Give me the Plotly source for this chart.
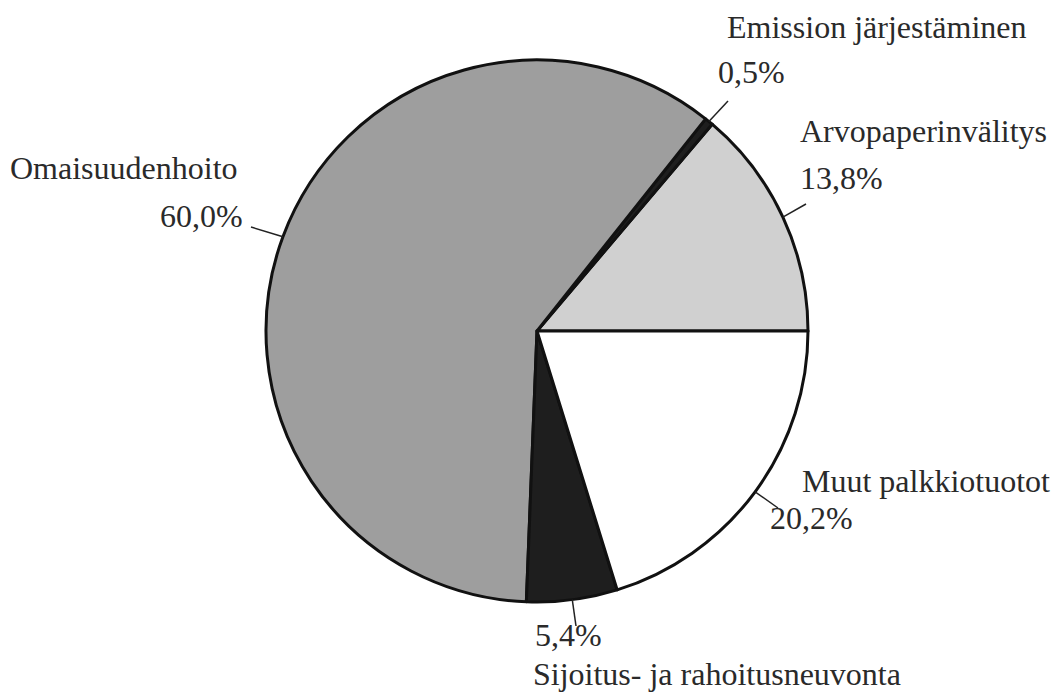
import numpy as np
import plotly.graph_objects as go

labels = ["Arvopaperinvälitys", "Emission järjestäminen", "Omaisuudenhoito",
          "Sijoitus- ja rahoitusneuvonta", "Muut palkkiotuotot"]
values = [13.8, 0.5, 60.0, 5.4, 20.2]
pct_text = ["13,8%", "0,5%", "60,0%", "5,4%", "20,2%"]
colors = ["#d0d0d0", "#1e1e1e", "#9e9e9e", "#1e1e1e", "#ffffff"]

W, H = 1060, 699
CX, CY, R = 529, 323, 271  # pie centre/radius in pixels

# first slice (counterclockwise) begins at 3 o'clock
rot = 90 - values[0] / sum(values) * 360

fig = go.Figure(go.Pie(
    labels=labels, values=values, sort=False, direction="counterclockwise",
    rotation=rot, textinfo="none", hoverinfo="label+percent",
    marker=dict(colors=colors, line=dict(color="#111111", width=3)),
    domain=dict(x=[(CX - R) / W, (CX + R) / W], y=[(H - CY - R) / H, (H - CY + R) / H]),
    showlegend=False,
))

name_pos = [(790, 123), (717, 19), (0, 160), (523, 666), (792, 473)]
pct_pos = [(790, 170), (708, 64), (150, 208), (525, 627), (760, 510)]
line_end = [(798, 196), (720, 93), (243, 219), (568, 618), (770, 500)]

def px(x, y):
    return x / W, 1 - y / H

font = dict(family="Liberation Serif, serif", size=32, color="#2a2a2a")
ann = []
shapes = []
cum = np.cumsum([0] + values[:-1])
for i, lab in enumerate(labels):
    mid = np.deg2rad((cum[i] + values[i] / 2) / sum(values) * 360)
    ex, ey = CX + R * np.cos(mid), CY - R * np.sin(mid)
    x0, y0 = px(ex, ey)
    x1, y1 = px(*line_end[i])
    shapes.append(dict(type="line", xref="paper", yref="paper", x0=x0, y0=y0, x1=x1, y1=y1,
                       line=dict(color="#222222", width=1.5)))
    nx, ny = px(*name_pos[i])
    ann.append(dict(text=lab, x=nx, y=ny, xref="paper", yref="paper", xanchor="left",
                    yanchor="middle", showarrow=False, font=font))
    qx, qy = px(*pct_pos[i])
    ann.append(dict(text=pct_text[i], x=qx, y=qy, xref="paper", yref="paper", xanchor="left",
                    yanchor="middle", showarrow=False, font=font))

fig.update_layout(width=W, height=H, margin=dict(l=0, r=0, t=0, b=0),
                  paper_bgcolor="white", plot_bgcolor="white",
                  annotations=ann, shapes=shapes)
fig.write_html("out.html")
